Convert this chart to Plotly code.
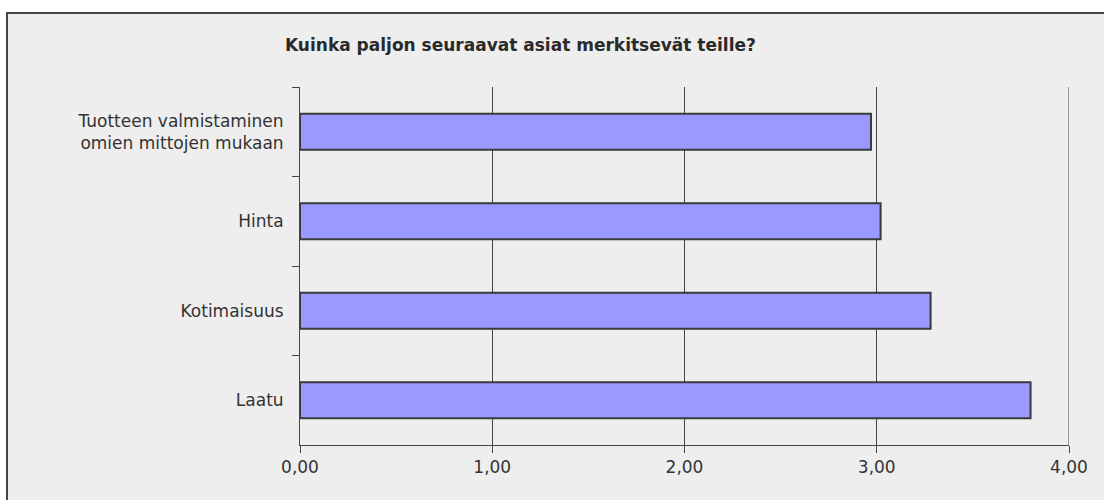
import plotly.graph_objects as go

# Survey items, listed top to bottom, and their mean scores
categories = [
    "Tuotteen valmistaminen<br>omien mittojen mukaan",
    "Hinta",
    "Kotimaisuus",
    "Laatu",
]
scores = [2.97, 3.02, 3.28, 3.80]
x_ticks = [0, 1, 2, 3, 4]

title_text = "Kuinka paljon seuraavat asiat merkitsevät teille?"

W, H = 1104, 500
L, R, T, B = 300, 35, 87, 55
plot_w = W - L - R
plot_h = H - T - B

fig = go.Figure(
    go.Bar(
        x=scores,
        y=categories,
        orientation="h",
        marker=dict(color="#9999ff", line=dict(color="#3a3a3a", width=2)),
        width=0.4,
        hoverinfo="x+y",
    )
)

# light grey panel with a dark frame on its top and left edges
fig.add_shape(
    type="rect",
    xref="paper", yref="paper",
    x0=(7 - L) / plot_w, x1=1 + 60 / plot_w,
    y0=-(B + 40) / plot_h, y1=(H - B - 13) / plot_h,
    fillcolor="#eeeeee",
    line=dict(color="#444444", width=2),
    layer="below",
)

# gridline at the right end of the value axis
fig.add_shape(
    type="line",
    xref="x", yref="paper",
    x0=x_ticks[-1], x1=x_ticks[-1], y0=0, y1=1,
    line=dict(color="#444444", width=1),
    layer="below",
)

fig.add_annotation(
    text="<b>" + title_text + "</b>",
    xref="paper", yref="paper",
    x=(520 - L) / plot_w, y=(H - B - 45) / plot_h,
    xanchor="center", yanchor="middle",
    showarrow=False,
    font=dict(family="DejaVu Sans", size=17, color="#2a2a2a"),
)

axis_font = dict(family="DejaVu Sans", size=17, color="#333333")

fig.update_layout(
    width=W, height=H,
    margin=dict(l=L, r=R, t=T, b=B),
    paper_bgcolor="white",
    plot_bgcolor="rgba(0,0,0,0)",
    separators=", ",
    showlegend=False,
    bargap=0.6,
    xaxis=dict(
        range=[0, 4],
        tickvals=x_ticks,
        tickformat=".2f",
        ticks="outside",
        ticklen=7,
        tickcolor="#444444",
        showgrid=True,
        gridcolor="#444444",
        gridwidth=1,
        zeroline=False,
        showline=True,
        linecolor="#444444",
        linewidth=1,
        tickfont=axis_font,
        fixedrange=True,
    ),
    yaxis=dict(
        autorange="reversed",
        ticks="outside",
        tickson="boundaries",
        ticklen=7,
        tickcolor="#444444",
        showgrid=False,
        showline=True,
        linecolor="#444444",
        linewidth=1,
        tickfont=axis_font,
        ticklabelstandoff=12,
        fixedrange=True,
    ),
)

fig.write_html("out.html")
